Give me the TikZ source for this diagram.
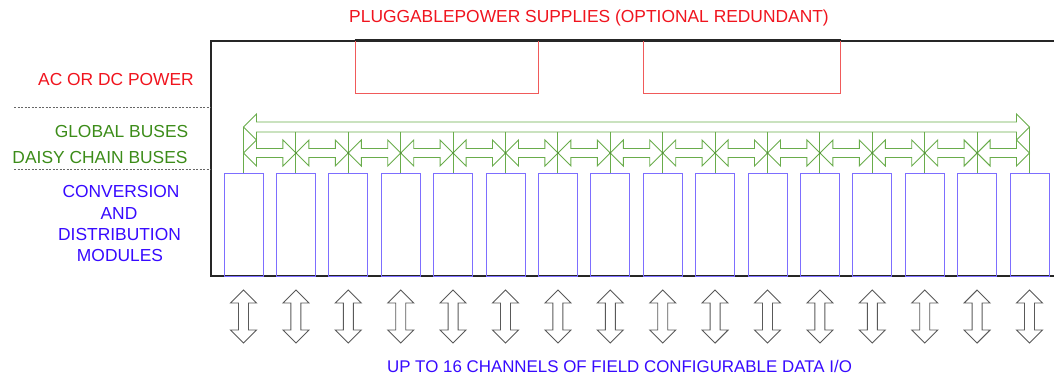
\documentclass[tikz,border=0pt]{standalone}
\usepackage{fontspec}
\setmainfont{Liberation Sans}
\usetikzlibrary{positioning,calc}

\definecolor{psured}{RGB}{240,90,90}
\definecolor{labelred}{RGB}{240,20,30}
\definecolor{busgreen}{RGB}{105,172,75}
\definecolor{labelgreen}{RGB}{60,140,25}
\definecolor{modblue}{RGB}{125,110,255}
\definecolor{labelblue}{RGB}{55,10,255}

% horizontal double arrow: left tip, right tip, half shaft
\newcommand{\hdblarrow}[3]{%
  \draw[busline] let \p1=(#1), \p2=(#2) in (\p1) -- (\x1+13pt,\y1+13pt) -- (\x1+13pt,\y1+#3)
    -- (\x2-13pt,\y2+#3) -- (\x2-13pt,\y2+13pt) -- (\p2) -- (\x2-13pt,\y2-13pt)
    -- (\x2-13pt,\y2-#3) -- (\x1+13pt,\y1-#3) -- (\x1+13pt,\y1-13pt) -- cycle;}
% vertical double arrow: top tip, bottom tip
\newcommand{\vdblarrow}[2]{%
  \draw[ioline] let \p1=(#1), \p2=(#2) in (\p1) -- (\x1+13pt,\y1-13pt) -- (\x1+5pt,\y1-13pt)
    -- (\x2+5pt,\y2+13pt) -- (\x2+13pt,\y2+13pt) -- (\p2) -- (\x2-13pt,\y2+13pt)
    -- (\x2-5pt,\y2+13pt) -- (\x1-5pt,\y1-13pt) -- (\x1-13pt,\y1-13pt) -- cycle;}

\tikzset{
  txt/.style={font=\fontsize{17.4}{21}\selectfont, inner sep=0pt, align=center},
  module/.style={draw=modblue, line width=1pt, minimum width=39pt, minimum height=103pt, inner sep=0pt},
  psu/.style={draw=psured, line width=1pt, inner sep=0pt},
  busline/.style={draw=busgreen, line width=0.9pt, line join=miter},
  ioline/.style={draw=black!65, line width=0.9pt},
  sepline/.style={draw=black!60, line width=0.6pt, dash pattern=on 2pt off 1.5pt}
}

\begin{document}
\begin{tikzpicture}[x=1pt,y=-1pt]
  \useasboundingbox (0,0) rectangle (1054,377);

  % enclosure
  \draw[black!85, line width=2pt] (1054,41) -- (211,41) -- (211,276) -- (1054,276);

  % power supplies
  \node[psu, minimum width=183pt, minimum height=53pt] (psuA) at (446.5,67.5) {};
  \node[psu, minimum width=197pt, minimum height=53pt] (psuB) at (741.5,67.5) {};
  \draw[black!85, line width=2pt] (psuA.north west) -- (psuB.north east);

  % labels
  \node[txt, text=labelred, anchor=base] (title) at (589,22.5) {PLUGGABLEPOWER SUPPLIES (OPTIONAL REDUNDANT)};
  \node[txt, text=labelred, anchor=base] (acdc) at (116,85.5) {AC OR DC POWER};
  \node[txt, text=labelgreen, anchor=base] (global) at (121.5,137.5) {GLOBAL BUSES};
  \node[txt, text=labelgreen, anchor=base] (daisy) at (100,163.3) {DAISY CHAIN BUSES};
  \node[txt, text=labelblue, anchor=base] (conv) at (121,197.7) {CONVERSION};
  \node[txt, text=labelblue, anchor=base] (and) at (119,219) {AND};
  \node[txt, text=labelblue, anchor=base] (distr) at (119.5,240) {DISTRIBUTION};
  \node[txt, text=labelblue, anchor=base] (modl) at (120,261) {MODULES};
  \node[txt, text=labelblue, anchor=base, font=\fontsize{16.9}{21}\selectfont] (chan) at (619.5,372.5) {UP TO 16 CHANNELS OF FIELD CONFIGURABLE DATA I/O};

  \coordinate (sepA) at (14,107);
  \coordinate (sepB) at (14,169);
  \coordinate (sepAe) at (211,107);
  \coordinate (sepBe) at (211,169);
  \draw[sepline] (sepA) -- (sepAe);
  \draw[sepline] (sepB) -- (sepBe);

  % modules and bus taps
  \foreach \i in {1,...,16} {
    \pgfmathsetmacro\cx{243.5+(\i-1)*52.4}
    \node[module] (mod\i) at (\cx,224.5) {};
    \coordinate (g\i) at (\cx,127);
    \coordinate (gb\i) at (\cx,132);
    \coordinate (d\i) at (\cx,153);
    \coordinate (ioT\i) at (\cx,290);
    \coordinate (ioB\i) at (\cx,343);
  }

  % global bus
  \hdblarrow{g1}{g16}{5pt}
  \draw[busline] (g1) -- (mod1.north);
  \draw[busline] (g16) -- (mod16.north);
  \foreach \i in {2,...,15} {
    \draw[busline] (gb\i) -- (mod\i.north);
  }

  % daisy chain
  \foreach \i [evaluate=\i as \j using int(\i+1)] in {1,...,15} {
    \hdblarrow{d\i}{d\j}{4.5pt}
  }
  \foreach \i in {2,...,15} {
    \fill[busgreen!80!black] (d\i) circle (1.1pt);
  }

  % field I/O
  \foreach \i in {1,...,16} {
    \vdblarrow{ioT\i}{ioB\i}
  }
\end{tikzpicture}
\end{document}
